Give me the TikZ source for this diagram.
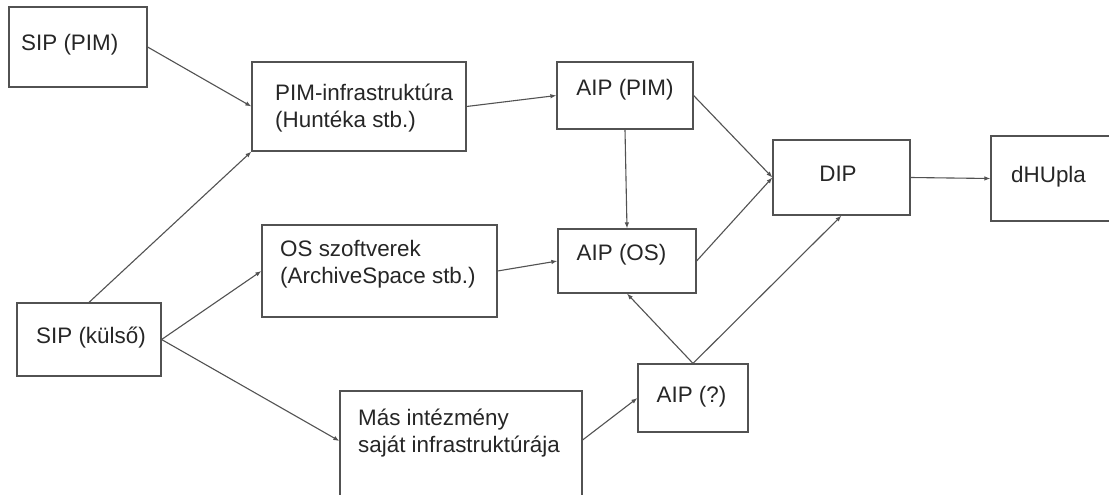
\documentclass[tikz,border=0pt]{standalone}
\usepackage{fontspec}
\setmainfont{Liberation Sans}
\usetikzlibrary{arrows.meta}
\begin{document}
\begin{tikzpicture}[x=1pt,y=-1pt,
  box/.style={draw=black!68, line width=1.2pt, rectangle, inner sep=0pt, fill=none},
  txt/.style={inner sep=0pt, anchor=west, align=left, text=black!85,
    font=\fontsize{22.4}{27}\selectfont},
  conn/.style={draw=black!68, line width=1.1pt, -{Latex[length=6pt,width=4.5pt]}}]
\useasboundingbox (0,0) rectangle (1109,495);
\clip (0,0) rectangle (1109,495);
\fill[white] (0,0) rectangle (1109,495);
% boxes
\node[box, minimum width=138pt, minimum height=80pt] (sippim) at (78,47) {};
\node[box, minimum width=214pt, minimum height=89pt] (pim) at (359,106.5) {};
\node[box, minimum width=136pt, minimum height=67pt] (aippim) at (625,95.5) {};
\node[box, minimum width=137pt, minimum height=75pt] (dip) at (841.5,177.5) {};
\node[box, minimum width=220pt, minimum height=85pt] (dhupla) at (1101,178.5) {};
\node[box, minimum width=235pt, minimum height=92pt] (os) at (379.5,271) {};
\node[box, minimum width=138pt, minimum height=64pt] (aipos) at (627,261) {};
\node[box, minimum width=144pt, minimum height=73pt] (sipk) at (89,339.5) {};
\node[box, minimum width=110pt, minimum height=68pt] (aipq) at (693,398) {};
\node[box, minimum width=242pt, minimum height=130pt] (mas) at (461,456) {};
% texts
\node[txt] (t1) at (21,45) {SIP (PIM)};
\node[txt] (t2) at (275,108) {PIM-infrastruktúra\\(Huntéka stb.)};
\node[txt, anchor=center] (t3) at (625,90) {AIP (PIM)};
\node[txt, anchor=center] (t4) at (838,174) {DIP};
\node[txt] (t5) at (1011,177) {dHUpla};
\node[txt] (t6) at (280,264.5) {OS szoftverek\\(ArchiveSpace stb.)};
\node[txt, anchor=center] (t7) at (621.5,255) {AIP (OS)};
\node[txt] (t8) at (36,338) {SIP (külső)};
\node[txt, anchor=center] (t9) at (691.5,397) {AIP (?)};
\node[txt] (t10) at (358,433.5) {Más intézmény\\saját infrastruktúrája};
% connectors
\draw[conn] (sippim.east) -- (pim.west);
\draw[conn] (sipk.north) -- (pim.south west);
\draw[conn] (pim.east) -- (aippim.west);
\draw[conn] (aippim.east) -- (dip.west);
\draw[conn] (aippim.south) -- (aipos.north);
\draw[conn] (aipos.east) -- (dip.west);
\draw[conn] (dip.east) -- (dhupla.west);
\draw[conn] (os.east) -- (aipos.west);
\draw[conn] (sipk.east) -- (os.west);
\draw[conn] (sipk.east) -- ([yshift=15pt]mas.west);
\draw[conn] ([yshift=16pt]mas.east) -- (aipq.west);
\draw[conn] (aipq.north) -- (aipos.south);
\draw[conn] (aipq.north) -- (dip.south);
\end{tikzpicture}
\end{document}
